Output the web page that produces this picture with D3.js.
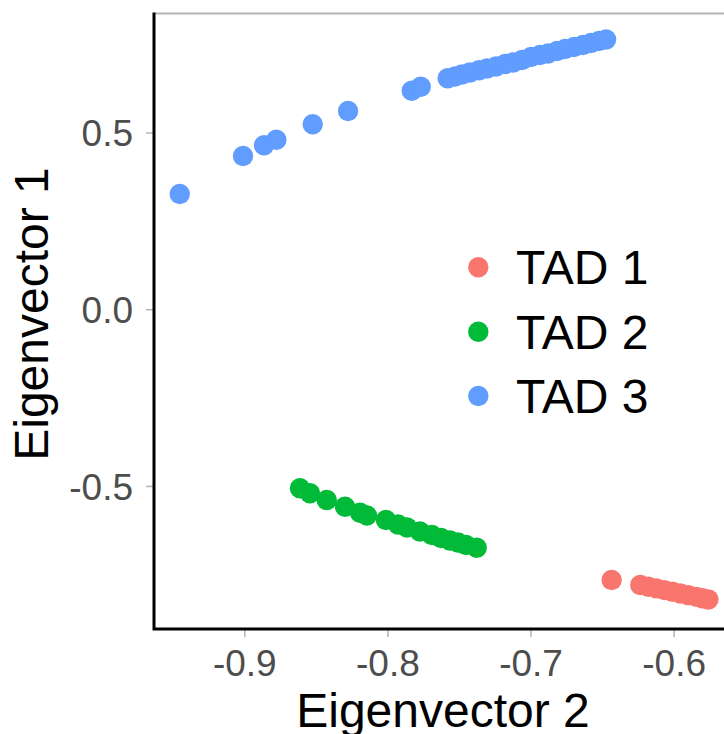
<!DOCTYPE html>
<html>
<head>
<meta charset="utf-8">
<script src="https://cdn.jsdelivr.net/npm/d3@7"></script>
<style>
  html, body { margin: 0; padding: 0; background: #fff; }
  svg { display: block; font-family: "Liberation Sans", Arial, sans-serif; }
</style>
</head>
<body>
<svg id="chart" width="724" height="734"></svg>
<script>
// ---- data ----
const groups = ["TAD 1", "TAD 2", "TAD 3"];
const colors = ["#F8766D", "#00BA38", "#619CFF"];

const tad1X = [-0.6433, -0.6233, -0.6177, -0.6121, -0.6065, -0.6009, -0.5953, -0.5897, -0.5841, -0.5799, -0.5757];
const tad1Y = [-0.7661, -0.7802, -0.7850, -0.7898, -0.7946, -0.7994, -0.8042, -0.8090, -0.8138, -0.8178, -0.8212];

const tad2X = [-0.8611, -0.8541, -0.8424, -0.8296, -0.8191, -0.8143, -0.8010, -0.7926, -0.7863, -0.7773, -0.7689, -0.7625, -0.7563, -0.7507, -0.7451, -0.7376];
const tad2Y = [-0.5066, -0.5208, -0.5397, -0.5587, -0.5757, -0.5836, -0.5963, -0.6091, -0.6176, -0.6289, -0.6388, -0.6472, -0.6543, -0.6600, -0.6670, -0.6747];

const tad3X = [-0.9451, -0.9009, -0.8862, -0.8776, -0.8522, -0.8275, -0.7830, -0.7767,
  -0.7579, -0.7528, -0.7479, -0.7423, -0.7360, -0.7304, -0.7241, -0.7177, -0.7121, -0.7059,
  -0.6996, -0.6933, -0.6877, -0.6814, -0.6758, -0.6695, -0.6633, -0.6577, -0.6521, -0.6472];
const tad3Y = [0.3259, 0.4334, 0.4637, 0.4795, 0.5231, 0.5607, 0.6181, 0.6294,
  0.6532, 0.6583, 0.6639, 0.6696, 0.6761, 0.6809, 0.6866, 0.6936, 0.6979, 0.7050,
  0.7134, 0.7191, 0.7233, 0.7304, 0.7361, 0.7417, 0.7474, 0.7530, 0.7587, 0.7629];

const xTicks = [-0.9, -0.8, -0.7, -0.6];
const xTickLabels = ["-0.9", "-0.8", "-0.7", "-0.6"];
const yTicks = [-0.5, 0.0, 0.5];
const yTickLabels = ["-0.5", "0.0", "0.5"];
const xDomain = [-0.9631, -0.5585];
const yDomain = [-0.9047, 0.8365];

// ---- layout ----
const panel = { left: 154, right: 733, top: 13.5, bottom: 629 };
const svg = d3.select("#chart");

const x = d3.scaleLinear().domain(xDomain).range([panel.left, panel.right]);
const y = d3.scaleLinear().domain(yDomain).range([panel.bottom, panel.top]);

const series = [
  { name: groups[0], color: colors[0], xs: tad1X, ys: tad1Y },
  { name: groups[1], color: colors[1], xs: tad2X, ys: tad2Y },
  { name: groups[2], color: colors[2], xs: tad3X, ys: tad3Y }
];

// top grey border
svg.append("line")
  .attr("x1", panel.left).attr("x2", 724)
  .attr("y1", panel.top).attr("y2", panel.top)
  .attr("stroke", "#B3B3B3").attr("stroke-width", 2);

// points
series.forEach(s => {
  svg.append("g").selectAll("circle")
    .data(s.xs.map((v, i) => [v, s.ys[i]]))
    .join("circle")
    .attr("cx", d => x(d[0]))
    .attr("cy", d => y(d[1]))
    .attr("r", 10.2)
    .attr("fill", s.color);
});

// x axis
const xAxis = d3.axisBottom(x).tickValues(xTicks)
  .tickFormat((d, i) => xTickLabels[i]).tickSize(8).tickPadding(13);
const gx = svg.append("g").attr("transform", `translate(0,${panel.bottom})`).call(xAxis);
gx.select(".domain").remove();
gx.selectAll(".tick line").attr("stroke", "#B3B3B3").attr("stroke-width", 1.5);
gx.selectAll(".tick text").attr("fill", "#4D4D4D")
  .style("font-size", "37px").style("font-family", "'Liberation Sans', Arial, sans-serif")
  .attr("dy", "0.71em");

// y axis
const yAxis = d3.axisLeft(y).tickValues(yTicks)
  .tickFormat((d, i) => yTickLabels[i]).tickSize(8).tickPadding(13);
const gy = svg.append("g").attr("transform", `translate(${panel.left},0)`).call(yAxis);
gy.select(".domain").remove();
gy.selectAll(".tick line").attr("stroke", "#B3B3B3").attr("stroke-width", 1.5);
gy.selectAll(".tick text").attr("fill", "#4D4D4D")
  .style("font-size", "37px").style("font-family", "'Liberation Sans', Arial, sans-serif")
  .attr("dy", "0.36em");

// axis lines (black)
svg.append("path")
  .attr("d", `M${panel.left},${panel.top - 1}V${panel.bottom}H724`)
  .attr("fill", "none").attr("stroke", "#000").attr("stroke-width", 3);

// axis titles
svg.append("text")
  .attr("x", 443).attr("y", 727)
  .attr("text-anchor", "middle")
  .style("font-size", "48px").attr("fill", "#000")
  .text("Eigenvector 2");

svg.append("text")
  .attr("transform", "translate(48,314) rotate(-90)")
  .attr("text-anchor", "middle")
  .style("font-size", "48px").attr("fill", "#000")
  .text("Eigenvector 1");

// legend
const legendY = [267.3, 331.7, 396];
const lg = svg.append("g");
series.forEach((s, i) => {
  lg.append("circle").attr("cx", 478.3).attr("cy", legendY[i]).attr("r", 10.2).attr("fill", s.color);
  lg.append("text").attr("x", 516).attr("y", legendY[i] + 17)
    .style("font-size", "48px").attr("fill", "#000").text(s.name);
});
</script>
</body>
</html>
